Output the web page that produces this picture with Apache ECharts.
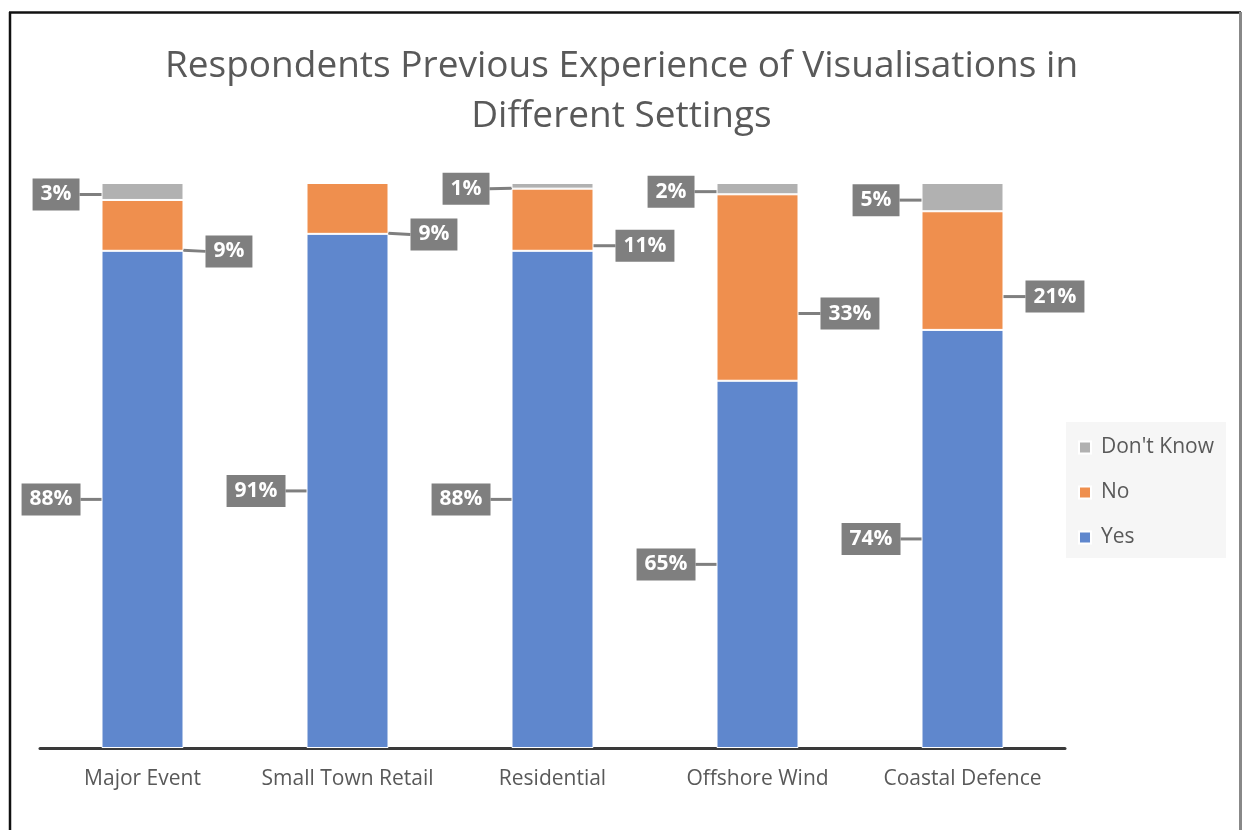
<!DOCTYPE html>
<html>
<head>
<meta charset="utf-8">
<script src="https://cdn.jsdelivr.net/npm/echarts@6/dist/echarts.min.js"></script>
<style>
html,body{margin:0;padding:0;background:#fff;}
#chart{width:1243px;height:830px;}
</style>
</head>
<body>
<div id="chart"></div>
<script>
const titleText = 'Respondents Previous Experience of Visualisations in\nDifferent Settings';
const categories = ['Major Event', 'Small Town Retail', 'Residential', 'Offshore Wind', 'Coastal Defence'];
const yesValues = [88, 91, 88, 65, 74];
const noValues = [9, 9, 11, 33, 21];
const dontKnowValues = [3, 0, 1, 2, 5];
const legendOrder = ["Don't Know", 'No', 'Yes'];

const FONT = 'Open Sans';
const TEXT_COLOR = '#595959';
const CALLOUT_BG = '#7f7f7f';

function calloutLabel(pos) {
  return {
    show: true,
    position: pos,
    formatter: '{c}%',
    color: '#ffffff',
    fontFamily: FONT,
    fontWeight: 'bold',
    fontSize: 21,
    backgroundColor: CALLOUT_BG,
    padding: [6, 8, 5, 8]
  };
}

function toData(values) {
  return values.map(v => v === 0 ? { value: v, label: { show: false }, labelLine: { show: false } } : v);
}

function barRect(p) {
  const r = p.rect;
  const y0 = Math.min(r.y, r.y + r.height);
  const h = Math.abs(r.height);
  return { x: r.x, y: y0, w: r.width, h: h };
}

const labelLineOpt = { show: true, lineStyle: { color: CALLOUT_BG, width: 3 } };

const chart = echarts.init(document.getElementById('chart'), null, { renderer: 'canvas' });
chart.setOption({
  backgroundColor: '#ffffff',
  animation: false,
  title: {
    text: titleText,
    left: 'center',
    top: 36,
    textStyle: {
      fontFamily: FONT,
      fontWeight: 'normal',
      fontSize: 37,
      color: TEXT_COLOR,
      lineHeight: 50
    }
  },
  legend: {
    orient: 'vertical',
    left: 1066,
    top: 422,
    padding: [15, 12, 10, 12],
    backgroundColor: '#f6f6f6',
    data: legendOrder,
    icon: 'rect',
    itemWidth: 12,
    itemHeight: 12,
    itemGap: 24,
    textStyle: {
      fontFamily: FONT,
      fontSize: 21,
      color: TEXT_COLOR,
      padding: [0, 0, 0, 5]
    },
    selectedMode: false
  },
  grid: { left: 40, right: 178, top: 183, bottom: 82 },
  xAxis: {
    type: 'category',
    data: categories,
    axisLine: { show: true, lineStyle: { color: '#3a3a3a', width: 3 } },
    axisTick: { show: false },
    axisLabel: {
      interval: 0,
      fontFamily: FONT,
      fontSize: 21,
      color: TEXT_COLOR,
      margin: 21
    }
  },
  yAxis: {
    type: 'value',
    min: 0,
    max: 100,
    show: false
  },
  graphic: [
    { type: 'line', silent: true, shape: { x1: 9, y1: 12.5, x2: 1241, y2: 12.5 }, style: { stroke: '#111', lineWidth: 2.5 } },
    { type: 'line', silent: true, shape: { x1: 10, y1: 12, x2: 10, y2: 830 }, style: { stroke: '#111', lineWidth: 2.5 } },
    { type: 'line', silent: true, shape: { x1: 1240.5, y1: 12, x2: 1240.5, y2: 830 }, style: { stroke: '#888', lineWidth: 3 } }
  ],
  series: [
    {
      name: 'Yes',
      type: 'bar',
      stack: 'total',
      barWidth: '40%',
      data: toData(yesValues),
      itemStyle: { color: '#5f87cd', borderColor: '#ffffff', borderWidth: 1 },
      emphasis: { disabled: true },
      label: calloutLabel('left'),
      labelLine: labelLineOpt,
      labelLayout: function (p) {
        const b = barRect(p);
        return { x: b.x - 21, y: b.y + b.h / 2, align: 'right', verticalAlign: 'middle' };
      }
    },
    {
      name: 'No',
      type: 'bar',
      stack: 'total',
      barWidth: '40%',
      data: toData(noValues),
      itemStyle: { color: '#ef8f4e', borderColor: '#ffffff', borderWidth: 1 },
      emphasis: { disabled: true },
      label: calloutLabel('right'),
      labelLine: labelLineOpt,
      labelLayout: function (p) {
        const b = barRect(p);
        return { x: b.x + b.w + 22, y: b.y + b.h / 2 + 26, align: 'left', verticalAlign: 'middle' };
      }
    },
    {
      name: "Don't Know",
      type: 'bar',
      stack: 'total',
      barWidth: '40%',
      data: toData(dontKnowValues),
      itemStyle: { color: '#b1b1b1', borderColor: '#ffffff', borderWidth: 1 },
      emphasis: { disabled: true },
      label: calloutLabel('left'),
      labelLine: labelLineOpt,
      labelLayout: function (p) {
        const b = barRect(p);
        return { x: b.x - 22, y: b.y + b.h / 2 + 3, align: 'right', verticalAlign: 'middle' };
      }
    }
  ]
});
</script>
</body>
</html>
